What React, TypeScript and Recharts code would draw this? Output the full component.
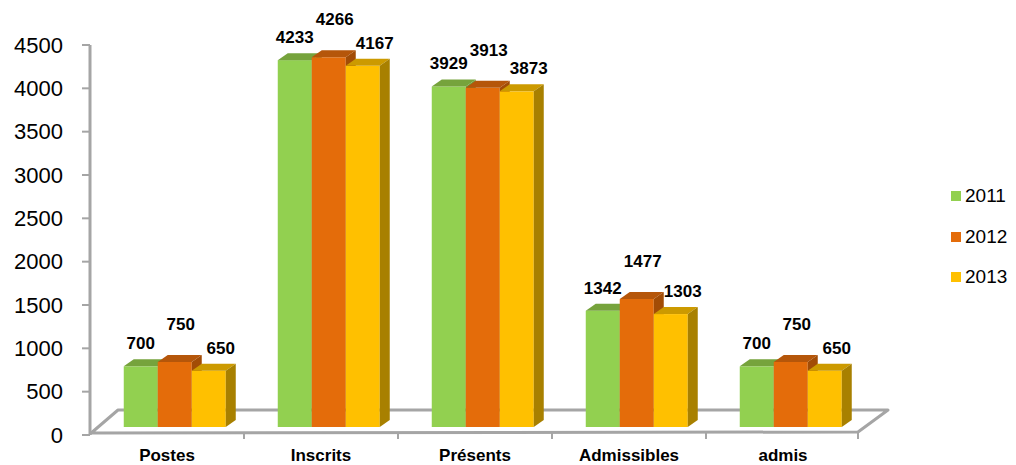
import { Bar, BarChart, LabelList, XAxis, YAxis } from "recharts";

const categories = ["Postes", "Inscrits", "Présents", "Admissibles", "admis"];
const seriesNames = ["2011", "2012", "2013"];
const values2011 = [700, 4233, 3929, 1342, 700];
const values2012 = [750, 4266, 3913, 1477, 750];
const values2013 = [650, 4167, 3873, 1303, 650];
const yTicks = [0, 500, 1000, 1500, 2000, 2500, 3000, 3500, 4000, 4500];

const data = categories.map((name, i) => ({
  name,
  "2011": values2011[i],
  "2012": values2012[i],
  "2013": values2013[i],
}));

const W = 1016;
const H = 465;
const M = { top: 45, right: 156, left: 0, bottom: 0 };
const AXIS_W = 90;
const XAXIS_H = 30;
const PLOT_L = M.left + AXIS_W;
const PLOT_R = W - M.right;
const PLOT_B = H - M.bottom - XAXIS_H;

const FONT = "'Liberation Sans', Arial, sans-serif";
const GRAY = "#a5a5a5";

// front face shift onto the floor, and the oblique depth of each block
const SX = 8.5;
const SY = 8;
const DX = 10;
const DY = 7;

const faces: Record<string, { front: string; top: string; side: string }> = {
  "2011": { front: "#92d050", top: "#76a33c", side: "#6f9a38" },
  "2012": { front: "#e46c0a", top: "#b5560a", side: "#a24c06" },
  "2013": { front: "#ffc000", top: "#cc9a00", side: "#a88000" },
};

function Block3D(key: string) {
  return (props: any) => {
    const { x, y, width, height } = props;
    if (!width || height == null) return <g />;
    const c = faces[key];
    const x0 = x + SX;
    const y0 = y - SY;
    const x1 = x0 + width;
    const y1 = y0 + height;
    return (
      <g>
        <rect x={x0} y={y0} width={width} height={height} fill={c.front} />
        <polygon
          points={`${x0},${y0} ${x1},${y0} ${x1 + DX},${y0 - DY} ${x0 + DX},${y0 - DY}`}
          fill={c.top}
        />
        <polygon
          points={`${x1},${y0} ${x1 + DX},${y0 - DY} ${x1 + DX},${y1 - DY} ${x1},${y1}`}
          fill={c.side}
        />
      </g>
    );
  };
}

function valueLabel(dx: number, dy: number) {
  return (props: any) => {
    const { x, y, width, value } = props;
    return (
      <text
        x={x + SX + width / 2 + dx}
        y={y - SY + dy}
        textAnchor="middle"
        fontFamily={FONT}
        fontWeight="bold"
        fontSize={17}
        fill="#000"
      >
        {value}
      </text>
    );
  };
}

// floor of the 3D plot plus the small category separators under it
function Floor() {
  const frontY = PLOT_B - 3;
  const backY = PLOT_B - 25;
  const left = PLOT_L;
  const right = PLOT_R - 2;
  const depth = 28;
  const band = (PLOT_R - PLOT_L) / categories.length;
  return (
    <g>
      <polyline
        points={`${left},${frontY + 2} ${left + depth},${backY} ${right + depth + 2},${backY} ${right},${frontY} ${left},${frontY + 1}`}
        fill="none"
        stroke={GRAY}
        strokeWidth={3}
        strokeLinejoin="round"
      />
      {categories.slice(1).map((_, i) => (
        <line
          key={i}
          x1={PLOT_L + band * (i + 1)}
          x2={PLOT_L + band * (i + 1)}
          y1={frontY + 1}
          y2={frontY + 7}
          stroke={GRAY}
          strokeWidth={2}
        />
      ))}
      <line x1={right} x2={right} y1={frontY} y2={frontY + 7} stroke={GRAY} strokeWidth={2} />
    </g>
  );
}

function CategoryTick(props: any) {
  const { x, payload } = props;
  return (
    <text
      x={x}
      y={PLOT_B + 26}
      textAnchor="middle"
      fontFamily={FONT}
      fontWeight="bold"
      fontSize={17}
      fill="#000"
    >
      {payload.value}
    </text>
  );
}

function LegendBox() {
  return (
    <div
      style={{
        position: "absolute",
        left: 951,
        top: 176,
        fontFamily: FONT,
        fontSize: 19,
        color: "#000",
      }}
    >
      {seriesNames.map((s) => (
        <div key={s} style={{ display: "flex", alignItems: "center", height: 40.5 }}>
          <span
            style={{ width: 10, height: 10, background: faces[s].front, marginRight: 4, display: "inline-block" }}
          />
          <span>{s}</span>
        </div>
      ))}
    </div>
  );
}

export default function App() {
  return (
    <div style={{ position: "absolute", left: 0, top: 0, width: W, height: H, background: "#fff" }}>
      <BarChart width={W} height={H} data={data} margin={M} barCategoryGap="16.4%" barGap={0}>
        <Floor />
        <XAxis
          dataKey="name"
          height={XAXIS_H}
          axisLine={false}
          tickLine={false}
          tick={<CategoryTick />}
          interval={0}
        />
        <YAxis
          width={AXIS_W}
          domain={[0, 4500]}
          ticks={yTicks}
          interval={0}
          axisLine={{ stroke: GRAY, strokeWidth: 3 }}
          tickLine={{ stroke: GRAY, strokeWidth: 2 }}
          tickSize={8}
          tickMargin={19}
          tick={{ fontFamily: FONT, fontSize: 22, fill: "#000" }}
        />
        <Bar dataKey="2011" shape={Block3D("2011")} isAnimationActive={false}>
          <LabelList dataKey="2011" content={valueLabel(0, -17)} />
        </Bar>
        <Bar dataKey="2012" shape={Block3D("2012")} isAnimationActive={false}>
          <LabelList dataKey="2012" content={valueLabel(6, -32)} />
        </Bar>
        <Bar dataKey="2013" shape={Block3D("2013")} isAnimationActive={false}>
          <LabelList dataKey="2013" content={valueLabel(12, -17)} />
        </Bar>
      </BarChart>
      <LegendBox />
    </div>
  );
}
